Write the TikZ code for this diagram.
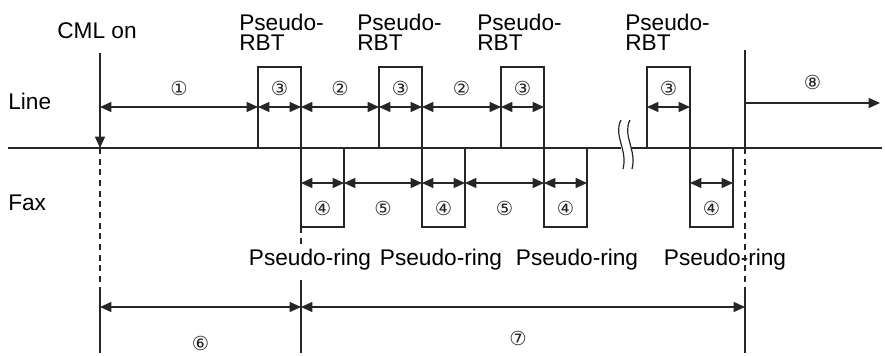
\documentclass[tikz,border=0pt]{standalone}
\usepackage{fontspec}
\setmainfont{Liberation Sans}
\newfontfamily\circfont{DejaVu Sans}
\usetikzlibrary{positioning,arrows.meta}

\begin{document}
\begin{tikzpicture}[
  x=0.75pt, y=-0.75pt,
  every node/.style={font=\fontsize{17}{14.5}\selectfont},
  lbl/.style={inner sep=0pt},
  num/.style={inner sep=0pt, font=\circfont\fontsize{14.5}{14.5}\selectfont},
  ln/.style={line width=0.9pt, black!85},
  brk/.style={ln, dash pattern=on 4.5pt off 3.5pt},
  rbtbox/.style={ln, draw, outer sep=0pt, inner sep=0pt, minimum width=32.25pt, minimum height=60.75pt, anchor=south west},
  faxbox/.style={ln, draw, outer sep=0pt, inner sep=0pt, minimum width=32.25pt, minimum height=59.25pt, anchor=north west},
  dim/.style={ln, {Triangle[length=8.5pt,width=7.5pt]}-{Triangle[length=8.5pt,width=7.5pt]}},
  arr/.style={ln, -{Triangle[length=8.5pt,width=7.5pt]}}
]
\useasboundingbox (0,0) rectangle (885,356);

% ---------------- reference points ----------------
\coordinate (bl) at (8,148);
\coordinate (br) at (882,148);
\coordinate (brkL) at (621,148);
\coordinate (brkR) at (631,148);
\coordinate (cmltop) at (100,53);
\coordinate (cmlbot) at (100,353);
\coordinate (endtop) at (745,50);
\coordinate (endbot) at (745,353);
\coordinate (goon) at (880,103);
\coordinate (lineY) at (0,107);
\coordinate (faxY) at (0,183);
\coordinate (totY) at (0,307);
\coordinate (splitY) at (0,292);

% ---------------- row titles ----------------
\node[lbl, anchor=base] (cml) at (97,39) {CML on};
\node[lbl, anchor=base west] (line) at (8,110) {Line};
\node[lbl, anchor=base west] (fax) at (8,210) {Fax};

% ---------------- pulses ----------------
\node[rbtbox] (rbt1) at (258,148) {};
\node[rbtbox] (rbt2) at (379,148) {};
\node[rbtbox] (rbt3) at (501,148) {};
\node[rbtbox] (rbt4) at (647,148) {};
\node[faxbox] (fax1) at (rbt1.south east) {};
\node[faxbox] (fax2) at (rbt2.south east) {};
\node[faxbox] (fax3) at (rbt3.south east) {};
\node[faxbox] (fax4) at (rbt4.south east) {};

\node[lbl, align=left, anchor=north west] (prbt1) at (239,14) {Pseudo-\\RBT};
\node[lbl, align=left, anchor=north west] (prbt2) at (357,14) {Pseudo-\\RBT};
\node[lbl, align=left, anchor=north west] (prbt3) at (477,14) {Pseudo-\\RBT};
\node[lbl, align=left, anchor=north west] (prbt4) at (625,14) {Pseudo-\\RBT};

\node[lbl, anchor=base] (ring1) at (310,265) {Pseudo-ring};
\node[lbl, anchor=base] (ring2) at (441,265) {Pseudo-ring};
\node[lbl, anchor=base] (ring3) at (577,265) {Pseudo-ring};
\node[lbl, anchor=base] (ring4) at (725,265) {Pseudo-ring};

% ---------------- base line with break ----------------
\draw[ln] (bl) -- (brkL);
\draw[ln] (brkR) -- (br);
\draw[ln] (621,120) .. controls (613,135) and (628,150) .. (623,169);
\draw[ln] (630,120) .. controls (622,135) and (637,150) .. (632,169);

% ---------------- vertical markers ----------------
\draw[arr] (cmltop) -- (cmltop |- bl);
\draw[brk] (cmltop |- bl) -- (cmltop |- splitY);
\draw[ln] (cmltop |- splitY) -- (cmlbot);

\draw[ln] (endtop) -- (endtop |- bl);
\draw[brk] (endtop |- bl) -- (endtop |- splitY);
\draw[ln] (endtop |- splitY) -- (endbot);

\draw[brk] (fax1.south west) -- (fax1.south west |- ring1.north);
\draw[ln] (fax1.south west |- 0,280) -- (fax1.south west |- cmlbot);

% ---------------- line side ----------------
\draw[dim] (cmltop |- lineY) -- node[num, yshift=14pt] (n1) {①} (rbt1.west |- lineY);
\draw[dim] (rbt1.west |- lineY) -- node[num, yshift=14pt] (n3a) {③} (rbt1.east |- lineY);
\draw[dim] (rbt1.east |- lineY) -- node[num, yshift=14pt] (n2a) {②} (rbt2.west |- lineY);
\draw[dim] (rbt2.west |- lineY) -- node[num, yshift=14pt] (n3b) {③} (rbt2.east |- lineY);
\draw[dim] (rbt2.east |- lineY) -- node[num, yshift=14pt] (n2b) {②} (rbt3.west |- lineY);
\draw[dim] (rbt3.west |- lineY) -- node[num, yshift=14pt] (n3c) {③} (rbt3.east |- lineY);
\draw[dim] (rbt4.west |- lineY) -- node[num, yshift=14pt] (n3d) {③} (rbt4.east |- lineY);
\draw[arr] (endtop |- goon) -- node[num, yshift=15.75pt] (n8) {⑧} (goon);

% ---------------- fax side ----------------
\draw[dim] (fax1.west |- faxY) -- node[num, yshift=-18.75pt] (n4a) {④} (fax1.east |- faxY);
\draw[dim] (fax1.east |- faxY) -- node[num, yshift=-18.75pt] (n5a) {⑤} (fax2.west |- faxY);
\draw[dim] (fax2.west |- faxY) -- node[num, yshift=-18.75pt] (n4b) {④} (fax2.east |- faxY);
\draw[dim] (fax2.east |- faxY) -- node[num, yshift=-18.75pt] (n5b) {⑤} (fax3.west |- faxY);
\draw[dim] (fax3.west |- faxY) -- node[num, yshift=-18.75pt] (n4c) {④} (fax3.east |- faxY);
\draw[dim] (fax4.west |- faxY) -- node[num, yshift=-18.75pt] (n4d) {④} (fax4.east |- faxY);

% ---------------- totals ----------------
\draw[dim] (cmltop |- totY) -- node[num, yshift=-27pt] (n6) {⑥} (fax1.west |- totY);
\draw[dim] (fax1.west |- totY) -- node[num, yshift=-23.5pt, xshift=-3.75pt] (n7) {⑦} (endtop |- totY);

\end{tikzpicture}
\end{document}
